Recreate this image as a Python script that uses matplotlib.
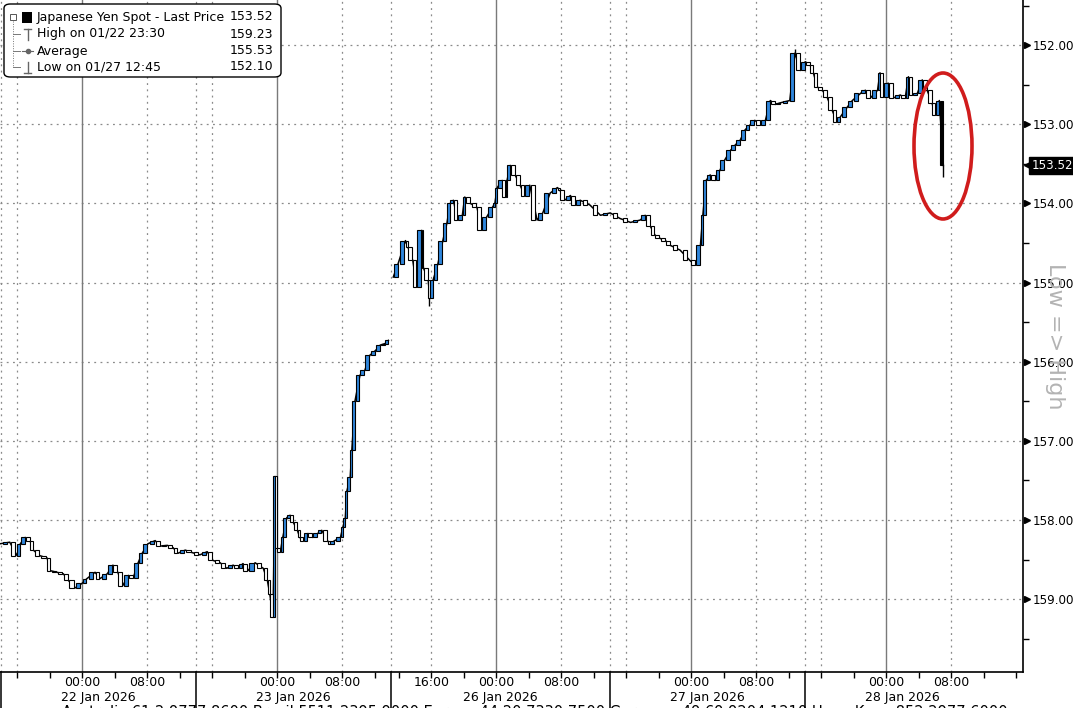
import matplotlib.pyplot as plt
import matplotlib.patches as mpatches
from matplotlib.transforms import blended_transform_factory

# hours from 22 Jan 00:00 on the chart's squeezed time axis (weekend removed)
hours = [-10.1, -8.9, -8.0, -7.6, -7.0, -6.4, -6.0, -5.2, -4.3, -3.9, -3.1, -2.3, -1.7, -0.9,
         0.0, 0.6, 1.6, 2.2, 3.1, 3.8, 4.4, 5.0, 5.7, 6.3, 6.9, 7.4, 8.1, 9.0, 9.6, 10.5,
         11.2, 11.8, 12.7, 13.5, 14.5, 15.4, 16.1, 17.0, 17.8, 18.6, 19.2, 19.8, 20.4, 21.3,
         22.3, 22.8, 23.1, 23.5, 23.75, 24.0, 24.4, 24.7, 25.2, 25.6, 26.0, 26.5, 26.8, 27.2,
         27.8, 28.4, 29.0, 29.5, 30.2, 30.5, 31.1, 31.8, 32.1, 32.4, 32.6, 33.0, 33.2, 33.6,
         34.2, 34.8, 35.4, 36.1, 36.7, 37.3, 37.7,
         38.3, 38.9, 39.8, 40.1, 40.7, 41.2, 41.8, 42.0, 42.6, 42.8, 43.2, 43.8, 44.4, 44.9,
         45.3, 45.7, 46.2, 46.8, 47.1, 47.8, 48.6, 49.2, 49.8, 50.5, 50.8, 51.1, 51.7, 52.1,
         52.3, 52.7, 53.3, 53.9, 54.5, 55.1, 56.0, 56.7, 57.6, 58.5, 58.8, 59.4, 60.1, 60.7,
         61.3, 62.5, 63.8, 65.0, 66.2, 67.5, 68.7, 69.3, 69.9, 70.5, 71.1, 71.8, 72.4, 73.6,
         74.8, 75.5, 76.1, 76.4, 76.8, 77.3, 77.9, 78.5, 79.1, 79.8, 80.4, 81.0, 81.6, 82.2,
         82.8, 83.5, 84.1, 84.7, 85.3, 85.9, 87.1, 87.75, 88.4, 89.0, 89.6, 90.0, 90.5, 91.1,
         91.7, 92.3, 92.9, 93.3, 94.2, 94.8, 95.8, 96.4, 97.0, 97.9, 98.2, 98.6, 99.2, 99.8,
         100.7, 101.3, 101.7, 102.2, 102.8, 103.4, 104.0, 104.6, 105.0, 105.5, 106.0]
price = [158.30, 158.28, 158.45, 158.30, 158.22, 158.26, 158.38, 158.45, 158.48, 158.64, 158.66,
         158.68, 158.76, 158.86,
         158.80, 158.74, 158.66, 158.74, 158.68, 158.57, 158.66, 158.83, 158.70, 158.73, 158.54,
         158.42, 158.30, 158.26, 158.33, 158.32,
         158.35, 158.42, 158.38, 158.41, 158.44, 158.40, 158.51, 158.54, 158.61, 158.57, 158.61,
         158.55, 158.64, 158.54,
         158.61, 158.76, 158.93, 159.23, 157.45, 158.35, 158.40, 158.22, 157.97, 157.94, 158.03,
         158.13, 158.22, 158.26,
         158.17, 158.22, 158.17, 158.13, 158.26, 158.30, 158.26, 158.22, 158.09, 157.97, 157.63,
         157.46, 157.12, 156.49,
         156.17, 156.11, 155.92, 155.86, 155.79, 155.77, 155.73,
         154.93, 154.76, 154.47, 154.55, 154.72, 155.06, 154.34, 154.81, 154.97, 155.19, 154.97,
         154.76, 154.47, 154.25,
         154.00, 153.96, 154.21, 154.15, 153.92, 154.00, 154.05, 154.34, 154.17, 154.05, 154.00,
         153.80, 153.71, 153.92,
         153.71, 153.52, 153.64, 153.77, 153.90, 153.77, 154.21, 154.12, 153.87, 153.80, 153.83,
         153.96, 153.90, 154.02,
         153.96, 154.02, 154.15, 154.12, 154.19, 154.24, 154.21, 154.15, 154.28, 154.40, 154.44,
         154.47, 154.53, 154.59,
         154.72, 154.78, 154.53, 154.15, 153.71, 153.64, 153.71, 153.58, 153.45, 153.33, 153.26,
         153.20, 153.07, 153.01,
         152.95, 153.01, 152.95, 152.70, 152.75, 152.73, 152.70, 152.10, 152.32, 152.21, 152.25,
         152.35, 152.53, 152.57,
         152.66, 152.82, 152.97, 152.91, 152.78, 152.70, 152.61, 152.57, 152.67, 152.57, 152.35,
         152.66, 152.48, 152.67,
         152.63, 152.67, 152.40, 152.63, 152.61, 152.44, 152.57, 152.73, 152.88, 152.70, 153.52]

session_breaks = [-10, 14, 38, 65, 89]
day_starts = [0, 24, 51, 75, 99]
hour8 = [8, 32, 59, 83, 107]
hour16 = [-8, 16, 43, 67, 91]
date_labels = ["22 Jan 2026", "23 Jan 2026", "26 Jan 2026", "27 Jan 2026", "28 Jan 2026"]

legend_rows = [("Japanese Yen Spot - Last Price", "153.52"),
               ("High on 01/22 23:30", "159.23"),
               ("Average", "155.53"),
               ("Low on 01/27 12:45", "152.10")]
last_price = 153.52

BLUE = "#2f86dc"
W, H = 1073, 708

fig = plt.figure(figsize=(W / 100, H / 100), dpi=100)
ax = fig.add_axes([0, 36 / H, 1023 / W, 672 / H])
ax.set_xlim(-10.1, 115.8)
ax.set_ylim(159.92, 151.43)

# grid
for y in range(152, 160):
    ax.axhline(y, color="#8a8a8a", lw=0.9, ls=(0, (1.5, 3.5)), zorder=0)
for t in day_starts:
    ax.axvline(t, color="#7a7a7a", lw=1.0, zorder=0)
for t in hour8 + hour16 + session_breaks:
    ax.axvline(t, color="#8a8a8a", lw=0.9, ls=(0, (1.5, 3.5)), zorder=0)

# thin trace through the closes, broken over the weekend
gap = next(i for i, t in enumerate(hours) if t > 38)
ax.plot(hours[:gap], price[:gap], color="black", lw=1.1, zorder=2)
ax.plot(hours[gap:], price[gap:], color="black", lw=1.1, zorder=2)

# candles: open = previous close
for i in range(1, len(hours)):
    t0, t1 = hours[i - 1], hours[i]
    if t0 < 38 <= t1:
        continue
    o, c = price[i - 1], price[i]
    if i == len(hours) - 1:
        fc = "black"
    else:
        fc = BLUE if c < o else "white"
    w = min(0.8 * (t1 - t0), 0.5)
    lo = min(o, c)
    ax.bar((t0 + t1) / 2, max(abs(c - o), 0.01), bottom=lo, width=w,
           color=fc, edgecolor="black", lw=0.8, zorder=3)

# a few visible wicks
ax.vlines([42.7, 87.75, 106.0], [155.19, 152.10, 153.52], [155.30, 152.05, 153.67],
          color="black", lw=1, zorder=2)

# spines
for s in ["left", "top"]:
    ax.spines[s].set_visible(False)
ax.spines["right"].set_linewidth(1.2)
ax.spines["bottom"].set_linewidth(1.2)

# right axis
ax.yaxis.tick_right()
ax.set_yticks(range(152, 160))
ax.set_yticklabels([f"{v:.2f}" for v in range(152, 160)], fontsize=8.6)
ax.set_yticks([v + 0.5 for v in range(151, 160)], minor=True)
ax.tick_params(axis="y", which="major", length=0, pad=7)
ax.tick_params(axis="y", which="minor", length=4, width=1, direction="out")
ytr = blended_transform_factory(ax.transAxes, ax.transData)
ax.plot([1.004] * 8, list(range(152, 160)), ls="none", marker=">", ms=5, color="black",
        transform=ytr, clip_on=False)

# last price tag
ax.text(1.0085, last_price, f"{last_price:.2f}", transform=ytr, color="white", fontsize=8.6,
        va="center", ha="left",
        bbox=dict(boxstyle="square,pad=0.2", fc="black", ec="black"))
ax.plot([1.0055], [last_price], marker="<", ms=7, color="black", transform=ytr, clip_on=False)

fig.text(1055 / W, 1 - 336 / H, "Low => High", rotation=270, color="#b3b3b3", fontsize=16,
         ha="center", va="center")

# bottom axis
minor = [t for t in range(-8, 116, 4) if t <= 36] + [t for t in range(39, 116, 4)]
ax.set_xticks(minor)
ax.set_xticklabels([])
ax.tick_params(axis="x", length=4, width=1, direction="out")
xtr = blended_transform_factory(ax.transData, ax.transAxes)
for t in session_breaks:
    ax.plot([t, t], [0, -36 / 672], color="black", lw=1.1, transform=xtr, clip_on=False)
for t in day_starts:
    ax.text(t, -10 / 672, "00:00", transform=xtr, ha="center", va="center", fontsize=9)
for t in hour8:
    ax.text(t, -10 / 672, "08:00", transform=xtr, ha="center", va="center", fontsize=9)
ax.text(43, -10 / 672, "16:00", transform=xtr, ha="center", va="center", fontsize=9)
seg_edges = session_breaks + [113]
for k, lab in enumerate(date_labels):
    ax.text((seg_edges[k] + seg_edges[k + 1]) / 2, -26 / 672, lab, transform=xtr,
            ha="center", va="center", fontsize=9)

fig.text(535 / W, -8.5 / H, "Australia 61 2 9777 8600 Brazil 5511 2395 9000 Europe 44 20 7330 7500 "
         "Germany 49 69 9204 1210 Hong Kong 852 2977 6000", ha="center", va="baseline",
         fontsize=10.5)

# red circle around the last move
ax.add_patch(mpatches.Ellipse((943, H - 146), 58, 146, transform=None, fill=False,
                              ec="#d01c1c", lw=2.6, zorder=5))

# legend box
fig.patches.append(mpatches.FancyBboxPatch((4 / W, 1 - 77 / H), 277 / W, 73 / H,
                                           boxstyle="round,pad=0,rounding_size=0.006",
                                           transform=fig.transFigure, fc="white", ec="black",
                                           lw=1, zorder=10))
rows_y = [17, 34, 51, 67]
for (name, val), yy in zip(legend_rows, rows_y):
    fig.text(37 / W, 1 - yy / H, name, fontsize=9, va="center", ha="left", zorder=11)
    fig.text(273 / W, 1 - yy / H, val, fontsize=9, va="center", ha="right", zorder=11)
fig.patches.append(mpatches.Rectangle((22 / W, 1 - 23 / H), 10 / W, 11 / H,
                                      transform=fig.transFigure, fc="black", zorder=11))
fig.patches.append(mpatches.Rectangle((10 / W, 1 - 20 / H), 6 / W, 6 / H,
                                      transform=fig.transFigure, fc="white", ec="#555555",
                                      lw=0.7, zorder=11))
fig.lines.append(plt.Line2D([13 / W, 13 / W], [1 - 21 / H, 1 - 67 / H], transform=fig.transFigure,
                            color="#777777", lw=0.7, ls=(0, (1, 1.5)), zorder=11))
for yy in rows_y[1:]:
    fig.lines.append(plt.Line2D([13 / W, 20 / W], [1 - yy / H, 1 - yy / H],
                                transform=fig.transFigure, color="#777777", lw=0.7, zorder=11))
# high / average / low icons
gc = "#666666"
fig.lines.append(plt.Line2D([24 / W, 31 / W], [1 - 29 / H, 1 - 29 / H], transform=fig.transFigure, color=gc, lw=1, zorder=11))
fig.lines.append(plt.Line2D([27.5 / W, 27.5 / W], [1 - 29 / H, 1 - 40 / H], transform=fig.transFigure, color=gc, lw=1, zorder=11))
fig.lines.append(plt.Line2D([22 / W, 33 / W], [1 - 51 / H, 1 - 51 / H], transform=fig.transFigure, color=gc, lw=0.8, zorder=11))
fig.lines.append(plt.Line2D([27.5 / W], [1 - 51 / H], transform=fig.transFigure, color=gc, marker="o", ms=3, zorder=11))
fig.lines.append(plt.Line2D([24 / W, 31 / W], [1 - 73 / H, 1 - 73 / H], transform=fig.transFigure, color=gc, lw=1, zorder=11))
fig.lines.append(plt.Line2D([27.5 / W, 27.5 / W], [1 - 62 / H, 1 - 73 / H], transform=fig.transFigure, color=gc, lw=1, zorder=11))

fig.savefig("out.png", dpi=100)
